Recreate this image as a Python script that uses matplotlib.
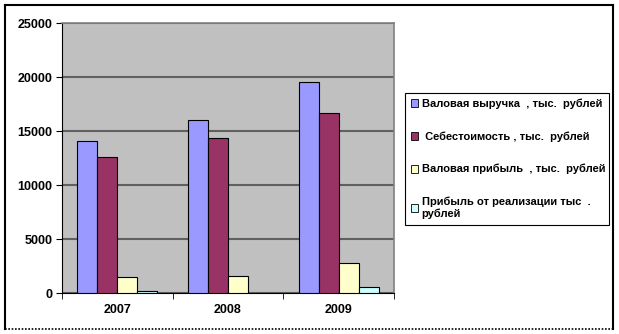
import matplotlib
matplotlib.use("Agg")
from matplotlib import pyplot as plt
from matplotlib.lines import Line2D
import numpy as np

plt.rcParams['font.family'] = ['Liberation Sans', 'DejaVu Sans']

years = ['2007', '2008', '2009']
gross_revenue = [14100, 16000, 19500]
cost = [12600, 14350, 16700]
gross_profit = [1450, 1600, 2750]
sales_profit = [150, 0, 600]

labels = [
    'Валовая выручка  , тыс.  рублей',
    ' Себестоимость , тыс.  рублей',
    'Валовая прибыль  , тыс.  рублей',
    'Прибыль от реализации тыс  .\nрублей',
]
colors = ['#9999FF', '#993366', '#FFFFCC', '#CCFFFF']

W, H = 619, 334
fig = plt.figure(figsize=(W / 100, H / 100), dpi=100)
ax = fig.add_axes([62 / W, 1 - 293 / H, (394 - 62) / W, (293 - 23) / H])
ax.set_facecolor('#C0C0C0')

x = np.arange(len(years))
bw = 0.18
series = [gross_revenue, cost, gross_profit, sales_profit]
for i, (vals, c, lab) in enumerate(zip(series, colors, labels)):
    bars = ax.bar(x + (i - 1.5) * bw, vals, width=bw, color=c, edgecolor='black',
                  linewidth=0.8, label=lab, zorder=3)
    for b, v in zip(bars, vals):
        if v == 0:
            b.set_visible(False)

ax.set_xlim(-0.5, 2.5)
ax.set_ylim(0, 25000)
ax.set_yticks(range(0, 25001, 5000))
ax.yaxis.grid(True, color='#606060', linewidth=1.5, zorder=1)
ax.set_xticks(x)
ax.set_xticklabels(years)
ax.set_xticks([-0.5, 0.5, 1.5, 2.5], minor=True)
ax.tick_params(axis='x', which='major', length=0, pad=8, labelsize=9)
ax.tick_params(axis='x', which='minor', length=4, direction='out', color='black')
ax.tick_params(axis='y', length=4, direction='out', labelsize=9, pad=3)
for t in ax.get_xticklabels() + ax.get_yticklabels():
    t.set_fontweight('bold')

ax.spines['left'].set_color('black')
ax.spines['bottom'].set_color('black')
ax.spines['top'].set_color('#808080')
ax.spines['right'].set_color('#808080')
ax.spines['top'].set_linewidth(1.2)
ax.spines['right'].set_linewidth(1.2)

leg = fig.legend(loc='upper left',
                 bbox_to_anchor=(405 / W, 1 - 224 / H, 204 / W, 131 / H),
                 mode='expand', fancybox=False, edgecolor='black',
                 framealpha=1, borderaxespad=0, handlelength=0.7,
                 handleheight=0.7, handletextpad=0.3, labelspacing=2.0,
                 borderpad=0.5, prop={'size': 8, 'weight': 'bold'})
leg.get_frame().set_linewidth(0.8)
for h in leg.legend_handles:
    h.set_linewidth(0.6)

# outer chart border
fig.add_artist(Line2D([5 / W, 5 / W], [1 - 5 / H, 1 - 329 / H], color='black', lw=1.5))
fig.add_artist(Line2D([5 / W, 613 / W], [1 - 5 / H, 1 - 5 / H], color='black', lw=1.5))
fig.add_artist(Line2D([613 / W, 613 / W], [1 - 5 / H, 1 - 329 / H], color='black', lw=1.5))
fig.add_artist(Line2D([5 / W, 613 / W], [1 - 329 / H, 1 - 329 / H], color='black', lw=1.2,
                      linestyle=(0, (1, 1))))

fig.savefig('out.png', dpi=100)
